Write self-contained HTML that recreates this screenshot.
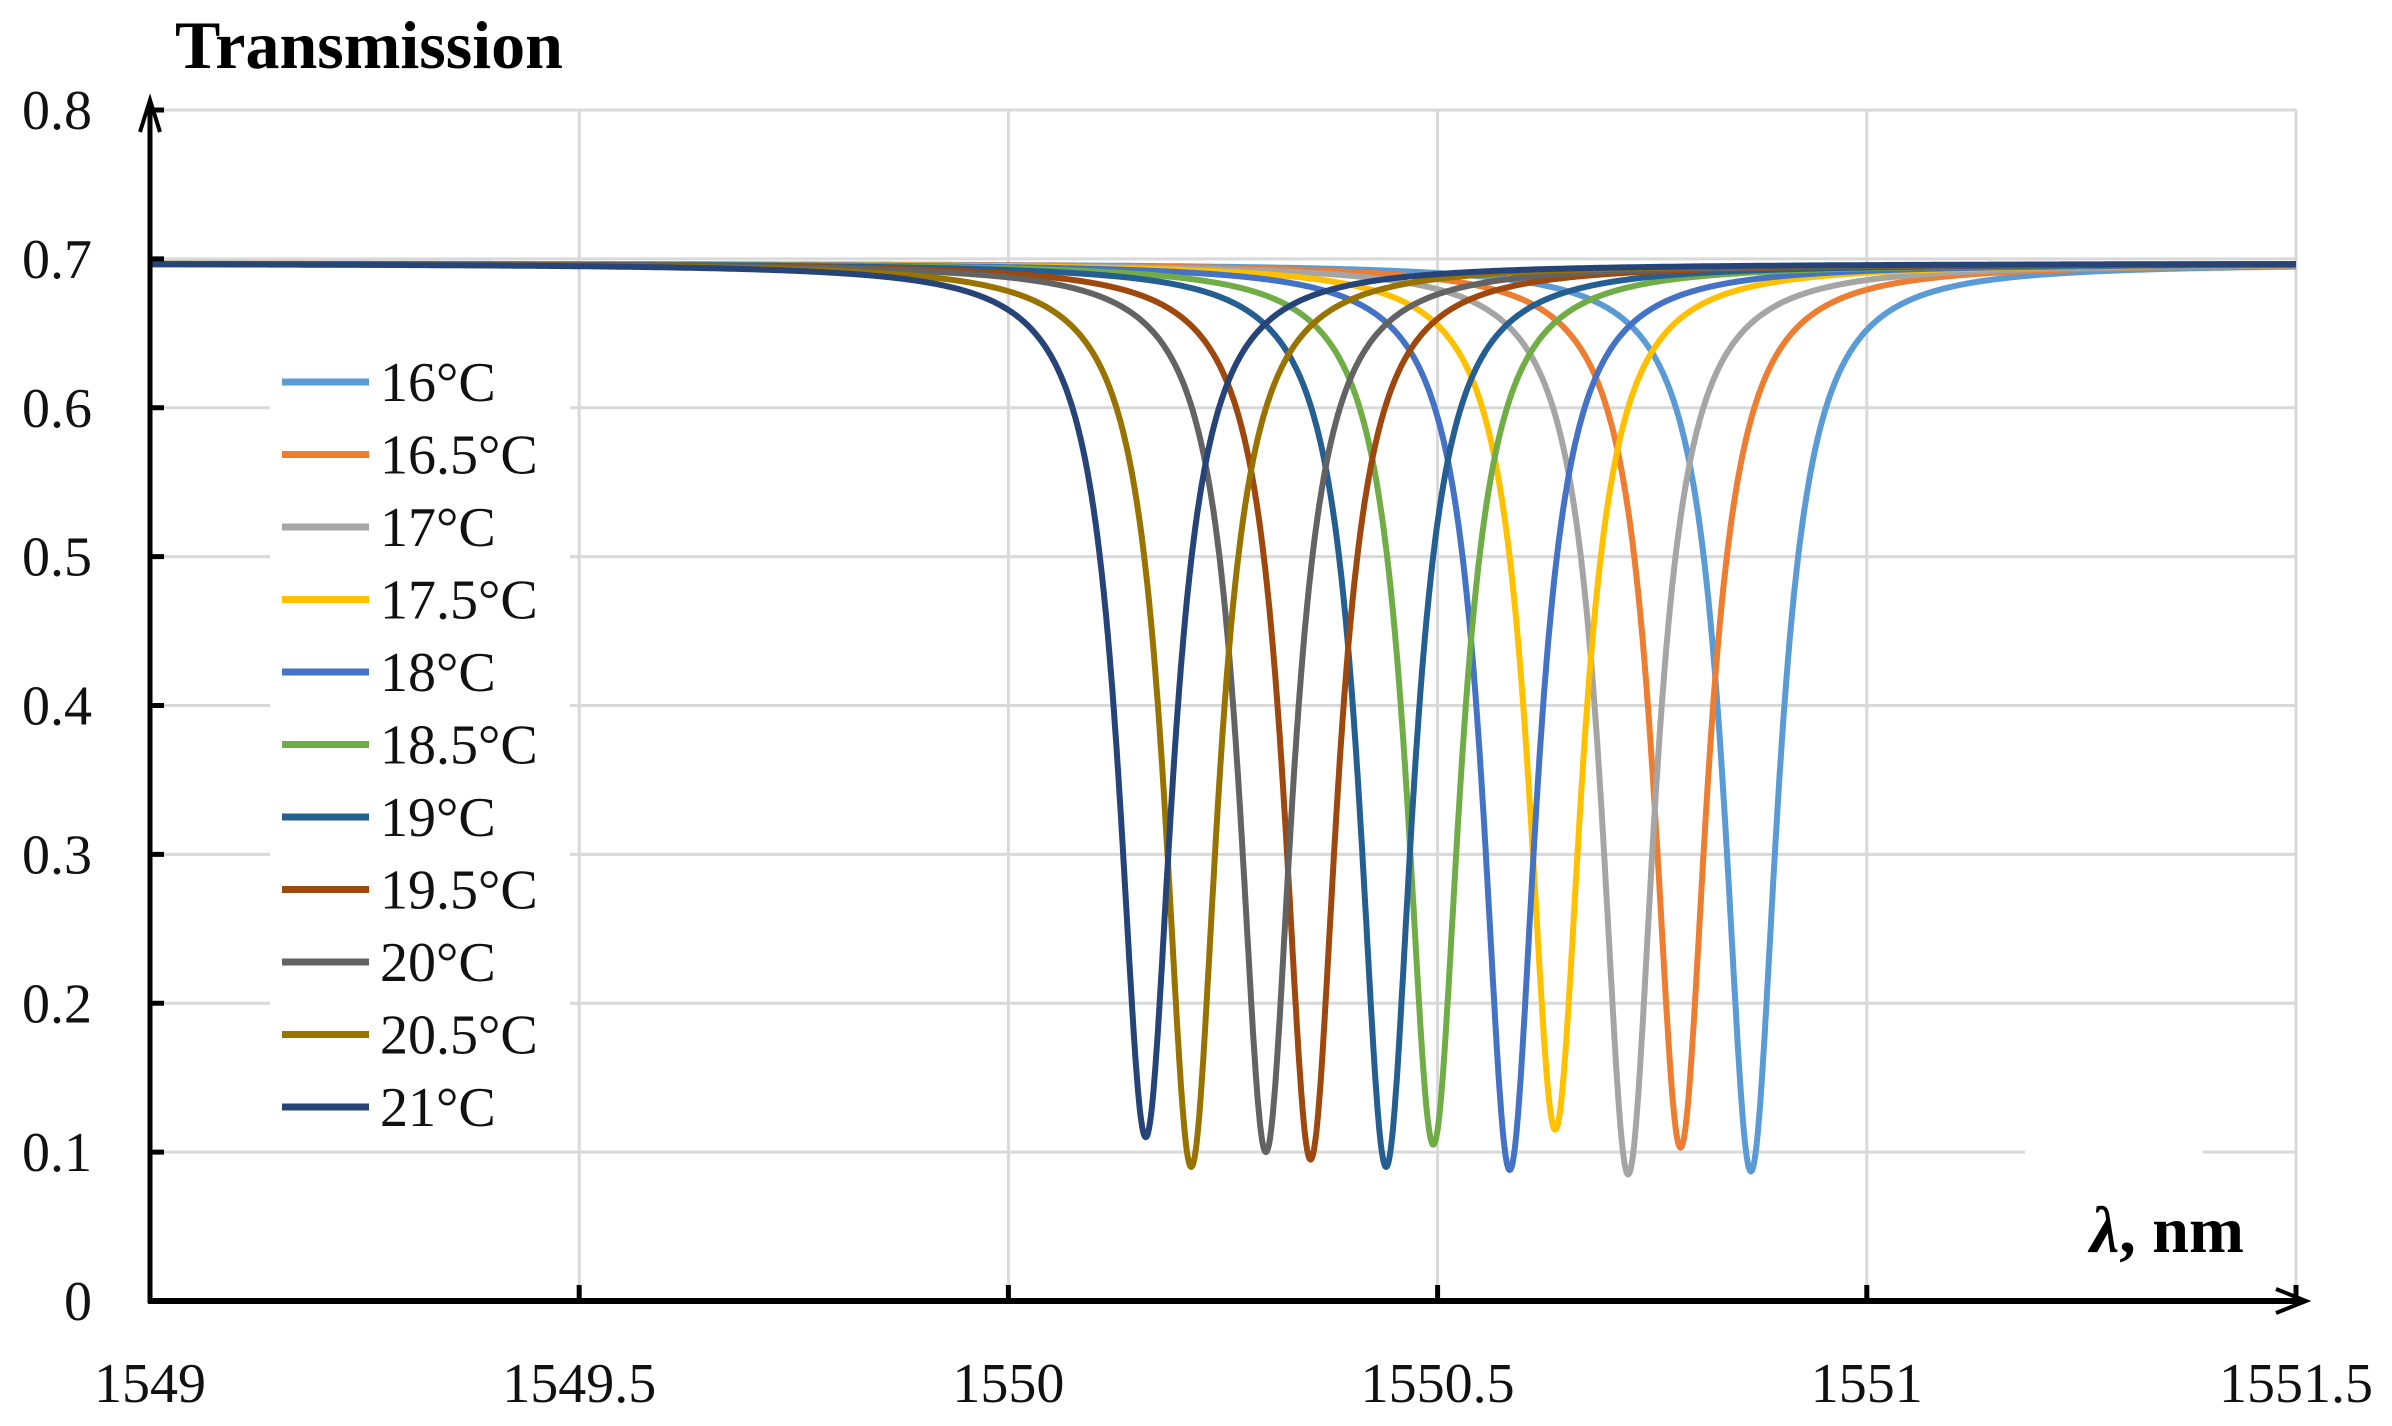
<!DOCTYPE html>
<html><head><meta charset="utf-8"><style>
html,body{margin:0;padding:0;background:#fff;}
svg{display:block;font-family:"Liberation Serif",serif;}
</style></head><body>
<svg id="chart" width="2392" height="1426" viewBox="0 0 2392 1426" xmlns="http://www.w3.org/2000/svg">
<rect x="0" y="0" width="2392" height="1426" fill="#fff"/>
<g id="grid"></g>
<g id="series"></g>
<g id="axes"></g>
<g id="legend"></g>
<text x="175" y="68" font-size="68" font-weight="bold">Transmission</text>
<text x="2090" y="1252" font-size="66" font-weight="bold"><tspan font-style="italic">λ</tspan>, nm</text>
</svg>
<script>
const xTicks = [1549, 1549.5, 1550, 1550.5, 1551, 1551.5];
const yTicks = [0, 0.1, 0.2, 0.3, 0.4, 0.5, 0.6, 0.7, 0.8];
const seriesLabels = ["16°C","16.5°C","17°C","17.5°C","18°C","18.5°C","19°C","19.5°C","20°C","20.5°C","21°C"];
const seriesColors = ["#5b9bd5","#ed7d31","#a5a5a5","#ffc000","#4472c4","#70ad47","#255e91","#9e480e","#636363","#997300","#264478"];
const dipCenters = [1550.865,1550.783,1550.722,1550.637,1550.584,1550.495,1550.44,1550.352,1550.30,1550.213,1550.16];
const dipMinima = [0.087,0.103,0.085,0.115,0.088,0.105,0.09,0.095,0.10,0.09,0.11];
const baseline = 0.697;
const halfWidth = 0.038;

const NS="http://www.w3.org/2000/svg";
const X0=150,X1=2296,Y0=1301,Y1=110;
function sx(v){return X0+(v-1549)/(1551.5-1549)*(X1-X0);}
function sy(v){return Y0-(v/0.8)*(Y0-Y1);}
function mk(tag,attrs,parent){const e=document.createElementNS(NS,tag);for(const k in attrs)e.setAttribute(k,attrs[k]);parent.appendChild(e);return e;}
const grid=document.getElementById('grid'),axes=document.getElementById('axes'),ser=document.getElementById('series'),leg=document.getElementById('legend');

yTicks.forEach(v=>{
  if(v>0){const l=mk('line',{x1:X0,x2:X1,y1:sy(v),y2:sy(v),stroke:'#d9d9d9','stroke-width':3},grid);
  
  }
  const t=mk('text',{x:92,y:sy(v)+19,'font-size':56,'text-anchor':'end',fill:'#111'},axes);
  t.textContent=String(v);
  
  
  const tk=mk('line',{x1:X0,x2:X0+14,y1:sy(v),y2:sy(v),stroke:'#000','stroke-width':5},axes);
  
  
});
xTicks.forEach(v=>{
  if(v>1549){const l=mk('line',{x1:sx(v),x2:sx(v),y1:Y1,y2:Y0,stroke:'#d9d9d9','stroke-width':3},grid);
  
  }
  const t=mk('text',{x:sx(v),y:1402,'font-size':56,'text-anchor':'middle',fill:'#111'},axes);
  t.textContent=String(v);
  
  
  const tk=mk('line',{x1:sx(v),x2:sx(v),y1:Y0,y2:Y0-16,stroke:'#000','stroke-width':5},axes);
  
  
});
const gap=mk('rect',{x:2025,y:sy(0.1)-6,width:178,height:12,fill:'#fff'},grid);



seriesLabels.forEach((lab,i)=>{
  const c=dipCenters[i],depth=baseline-dipMinima[i];
  let d='';
  for(let k=0;k<=2500;k++){
    const x=1549+k*(2.5/2500);
    const dx=x-c;
    const T=baseline-depth*halfWidth*halfWidth/(halfWidth*halfWidth+dx*dx);
    d+=(k?'L':'M')+sx(x).toFixed(1)+' '+sy(T).toFixed(1);
  }
  const p=mk('path',{d:d,fill:'none',stroke:seriesColors[i],'stroke-width':6,'stroke-linejoin':'round'},ser);
  
  
});

const ya=mk('path',{d:`M${X0} ${Y0+2} L${X0} ${Y1-8}`,stroke:'#000','stroke-width':5,fill:'none'},axes);


const yar=mk('path',{d:`M${X0-10} ${Y1+22} L${X0} ${Y1-10} L${X0+10} ${Y1+22}`,stroke:'#000','stroke-width':4,fill:'none'},axes);


const xa=mk('path',{d:`M${X0-2} ${Y0} L${X1+8} ${Y0}`,stroke:'#000','stroke-width':6,fill:'none'},axes);


const xar=mk('path',{d:`M${X1-20} ${Y0-12} L${X1+10} ${Y0} L${X1-20} ${Y0+12}`,stroke:'#000','stroke-width':4,fill:'none'},axes);



const lbg=mk('rect',{x:270,y:345,width:300,height:790,fill:'#fff'},leg);


seriesLabels.forEach((lab,i)=>{
  const y=382+i*72.5;
  const g=mk('g',{},leg);
  
  
  mk('line',{x1:282,x2:369,y1:y,y2:y,stroke:seriesColors[i],'stroke-width':7},g);
  const t=mk('text',{x:380,y:y+19,'font-size':56,fill:'#111'},g);
  t.textContent=lab;
});
</script>
</body></html>
